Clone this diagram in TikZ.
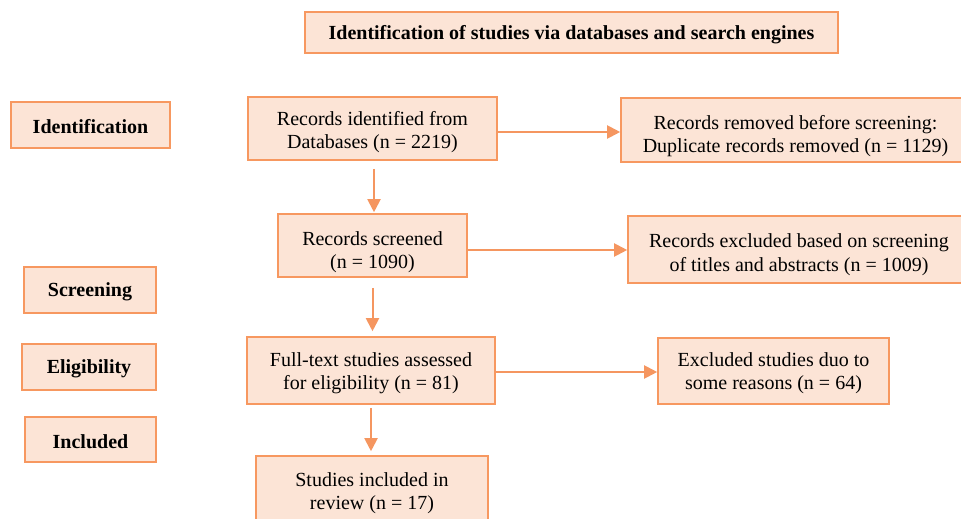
\documentclass[tikz,border=0pt]{standalone}
\usepackage{fontspec}
\setmainfont{Liberation Serif}
\usetikzlibrary{arrows.meta}
\definecolor{boxline}{RGB}{247,152,96}
\definecolor{boxfill}{RGB}{252,228,214}
\definecolor{arrowcol}{RGB}{245,150,96}
\tikzset{
  stagebox/.style={draw=boxline, fill=boxfill, line width=1.6pt, inner sep=0pt},
  boxtext/.style={align=center, inner sep=0pt, font=\fontsize{20}{23.5}\selectfont},
  phasebox/.style={stagebox, align=center, font=\bfseries\fontsize{20}{23}\selectfont,
    execute at begin node={\rule{0pt}{18pt}}},
  flow/.style={draw=arrowcol, line width=2pt, -{Triangle[length=13pt,width=13pt]}},
}
\begin{document}
\begin{tikzpicture}[x=1pt,y=-1pt]
\useasboundingbox (0,0) rectangle (961,519);
\clip (0,0) rectangle (961,519);

% header
\node[phasebox, minimum width=533pt, minimum height=41pt] (title) at (571.5,32.5)
  {Identification of studies via databases and search engines};

% phase labels on the left
\node[phasebox, minimum width=159pt, minimum height=46pt] (ident) at (90.5,125) {Identification};
\node[phasebox, minimum width=132pt, minimum height=46pt] (screen) at (90,290) {Screening};
\node[phasebox, minimum width=134pt, minimum height=46pt] (elig) at (89,367) {Eligibility};
\node[phasebox, minimum width=131pt, minimum height=45pt] (incl) at (90.5,439.5) {Included};

% main flow
\node[stagebox, minimum width=249pt, minimum height=63pt,
  label={[boxtext, yshift=-3.5pt]center:Records identified from\\Databases (n = 2219)}]
  (rid) at (372.5,128.5) {};
\node[stagebox, minimum width=189pt, minimum height=63pt,
  label={[boxtext, yshift=-6.5pt]center:Records screened\\(n = 1090)}]
  (rscr) at (372.5,245.5) {};
\node[stagebox, minimum width=248pt, minimum height=67pt,
  label={[boxtext, yshift=-2.5pt]center:Full-text studies assessed\\for eligibility (n = 81)}]
  (full) at (371,370.5) {};
\node[stagebox, minimum width=232pt, minimum height=66pt,
  label={[boxtext, yshift=-4pt]center:Studies included in\\review (n = 17)}]
  (sinc) at (372,489) {};

% exclusions on the right
\node[stagebox, minimum width=349pt, minimum height=64pt,
  label={[boxtext, yshift=-6pt]center:Records removed before screening:\\Duplicate records removed (n = 1129)}]
  (rrem) at (795.5,130) {};
\node[stagebox, minimum width=342pt, minimum height=67pt,
  label={[boxtext, yshift=-5pt]center:Records excluded based on screening\\of titles and abstracts (n = 1009)}]
  (rexc) at (799,249.5) {};
\node[stagebox, minimum width=231pt, minimum height=66pt,
  label={[boxtext, yshift=-2pt]center:Excluded studies duo to\\some reasons (n = 64)}]
  (exst) at (773.5,371) {};

% connectors
\draw[flow] ([yshift=-3.5pt]rid.east) -- ([yshift=-3.5pt]rid.east -| rrem.west);
\draw[flow] ([yshift=-4.5pt]rscr.east) -- ([yshift=-4.5pt]rscr.east -| rexc.west);
\draw[flow] ([yshift=-1.5pt]full.east) -- ([yshift=-1.5pt]full.east -| exst.west);
\draw[flow, shorten <=8pt, shorten >=1pt] ([xshift=1.5pt]rid.south) -- ([xshift=1.5pt]rid.south |- rscr.north);
\draw[flow, shorten <=10pt, shorten >=5pt] (rscr.south) -- (rscr.south |- full.north);
\draw[flow, shorten <=3pt, shorten >=4pt] (full.south) -- (full.south |- sinc.north);
\end{tikzpicture}
\end{document}
